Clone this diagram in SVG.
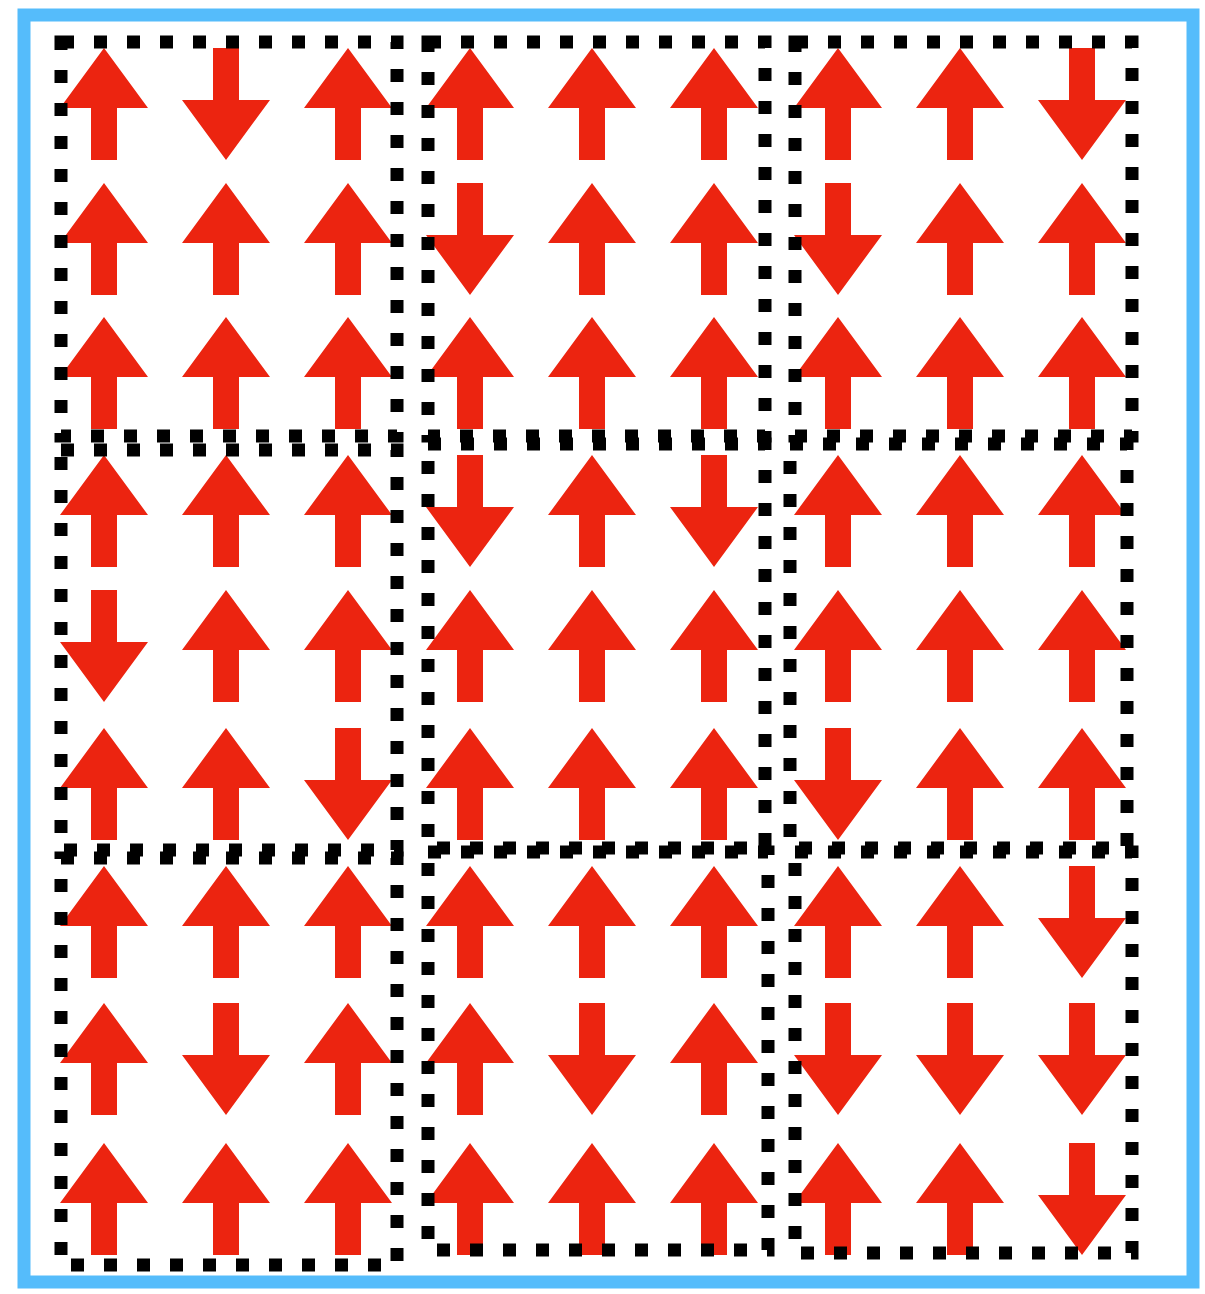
<svg xmlns="http://www.w3.org/2000/svg" xmlns:xlink="http://www.w3.org/1999/xlink" width="1205" height="1294" viewBox="0 0 1205 1294">
<style>
.arr{fill:#ec2410}
.blk{fill:none;stroke:#000;stroke-width:13;stroke-dasharray:13 20}
</style>
<defs>
<path id="up" class="arr" d="M0,-56 L44,4 L13,4 L13,56 L-13,56 L-13,4 L-44,4 Z"/>
<path id="dn" class="arr" d="M0,56 L44,-4 L13,-4 L13,-56 L-13,-56 L-13,-4 L-44,-4 Z"/>
</defs>
<rect x="0" y="0" width="1205" height="1294" fill="#fff"/>
<rect id="frame" x="24" y="15" width="1169" height="1267" fill="none" stroke="#55bcfb" stroke-width="13"/>
<g id="arrows">
<g id="row1">
<use href="#up" x="104" y="104"/><use href="#dn" x="226" y="104"/><use href="#up" x="348" y="104"/>
<use href="#up" x="470" y="104"/><use href="#up" x="592" y="104"/><use href="#up" x="714" y="104"/>
<use href="#up" x="838" y="104"/><use href="#up" x="960" y="104"/><use href="#dn" x="1082" y="104"/>
</g>
<g id="row2">
<use href="#up" x="104" y="239"/><use href="#up" x="226" y="239"/><use href="#up" x="348" y="239"/>
<use href="#dn" x="470" y="239"/><use href="#up" x="592" y="239"/><use href="#up" x="714" y="239"/>
<use href="#dn" x="838" y="239"/><use href="#up" x="960" y="239"/><use href="#up" x="1082" y="239"/>
</g>
<g id="row3">
<use href="#up" x="104" y="373"/><use href="#up" x="226" y="373"/><use href="#up" x="348" y="373"/>
<use href="#up" x="470" y="373"/><use href="#up" x="592" y="373"/><use href="#up" x="714" y="373"/>
<use href="#up" x="838" y="373"/><use href="#up" x="960" y="373"/><use href="#up" x="1082" y="373"/>
</g>
<g id="row4">
<use href="#up" x="104" y="511"/><use href="#up" x="226" y="511"/><use href="#up" x="348" y="511"/>
<use href="#dn" x="470" y="511"/><use href="#up" x="592" y="511"/><use href="#dn" x="714" y="511"/>
<use href="#up" x="838" y="511"/><use href="#up" x="960" y="511"/><use href="#up" x="1082" y="511"/>
</g>
<g id="row5">
<use href="#dn" x="104" y="646"/><use href="#up" x="226" y="646"/><use href="#up" x="348" y="646"/>
<use href="#up" x="470" y="646"/><use href="#up" x="592" y="646"/><use href="#up" x="714" y="646"/>
<use href="#up" x="838" y="646"/><use href="#up" x="960" y="646"/><use href="#up" x="1082" y="646"/>
</g>
<g id="row6">
<use href="#up" x="104" y="784"/><use href="#up" x="226" y="784"/><use href="#dn" x="348" y="784"/>
<use href="#up" x="470" y="784"/><use href="#up" x="592" y="784"/><use href="#up" x="714" y="784"/>
<use href="#dn" x="838" y="784"/><use href="#up" x="960" y="784"/><use href="#up" x="1082" y="784"/>
</g>
<g id="row7">
<use href="#up" x="104" y="922"/><use href="#up" x="226" y="922"/><use href="#up" x="348" y="922"/>
<use href="#up" x="470" y="922"/><use href="#up" x="592" y="922"/><use href="#up" x="714" y="922"/>
<use href="#up" x="838" y="922"/><use href="#up" x="960" y="922"/><use href="#dn" x="1082" y="922"/>
</g>
<g id="row8">
<use href="#up" x="104" y="1059"/><use href="#dn" x="226" y="1059"/><use href="#up" x="348" y="1059"/>
<use href="#up" x="470" y="1059"/><use href="#dn" x="592" y="1059"/><use href="#up" x="714" y="1059"/>
<use href="#dn" x="838" y="1059"/><use href="#dn" x="960" y="1059"/><use href="#dn" x="1082" y="1059"/>
</g>
<g id="row9">
<use href="#up" x="104" y="1199"/><use href="#up" x="226" y="1199"/><use href="#up" x="348" y="1199"/>
<use href="#up" x="470" y="1199"/><use href="#up" x="592" y="1199"/><use href="#up" x="714" y="1199"/>
<use href="#up" x="838" y="1199"/><use href="#up" x="960" y="1199"/><use href="#dn" x="1082" y="1199"/>
</g>
</g>
<g id="blocks">
<rect id="b11" class="blk" x="61" y="42" width="336" height="394"/>
<rect id="b12" class="blk" x="428" y="42" width="337" height="394"/>
<rect id="b13" class="blk" x="795" y="42" width="337" height="394"/>
<rect id="b21" class="blk" x="61" y="450" width="336" height="400"/>
<rect id="b22" class="blk" x="428" y="444" width="337" height="404"/>
<rect id="b23" class="blk" x="790" y="444" width="337" height="404"/>
<rect id="b31" class="blk" x="61" y="858" width="336" height="407"/>
<rect id="b32" class="blk" x="428" y="852" width="340" height="398"/>
<rect id="b33" class="blk" x="795" y="852" width="337" height="401"/>
</g>
</svg>
